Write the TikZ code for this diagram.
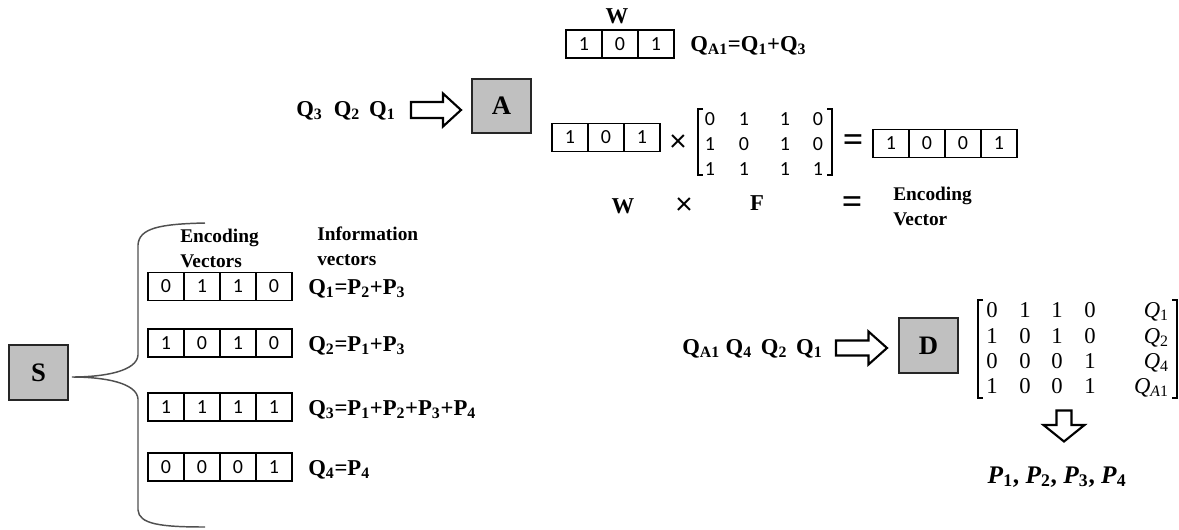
\documentclass[tikz,border=0pt]{standalone}
\usepackage{fontspec}
\setmainfont{Liberation Serif}
\newfontfamily\digitfont{Carlito}
\definecolor{boxgray}{RGB}{192,192,192}
\definecolor{bracegray}{RGB}{80,80,80}
\tikzset{
  cell/.style={draw, line width=0.9pt, minimum width=27pt, minimum height=21pt,
    inner sep=0pt, font=\digitfont\fontsize{15}{15}\selectfont},
  proc/.style={draw=black!85, fill=boxgray, line width=0.9pt, minimum width=44pt,
    minimum height=41pt, inner sep=0pt, font=\bfseries\fontsize{20}{20}\selectfont},
  lbl/.style={inner sep=0pt, anchor=base west, font=\bfseries\fontsize{17}{18}\selectfont},
  head/.style={inner sep=0pt, anchor=base west, align=left,
    font=\bfseries\fontsize{14.5}{18.75}\selectfont},
  big/.style={inner sep=0pt, anchor=base, font=\bfseries\fontsize{17}{17}\selectfont},
  op/.style={inner sep=0pt, font=\digitfont\fontsize{24}{24}\selectfont},
  eq/.style={inner sep=0pt, font=\bfseries\fontsize{27}{27}\selectfont},
  mtop/.style={inner sep=0pt, anchor=base, font=\digitfont\fontsize{15}{15}\selectfont},
  mbot/.style={inner sep=0pt, anchor=base, font=\fontsize{17}{17}\selectfont},
  bracket/.style={line width=0.9pt},
  hollow/.style={draw, line width=1.6pt, fill=white, line join=miter},
  brace/.style={draw=bracegray, line width=1.1pt},
}
% a row of boxed digits, centres 36 units apart
\newcommand\cellrow[4]{%
  \foreach \v [count=\i] in {#4}{\node[cell] (#1\i) at ({#2+36*(\i-1)},#3) {\v};}}

\begin{document}
\begin{tikzpicture}[x=0.75pt,y=-0.75pt]
\useasboundingbox (0,0) rectangle (1179,529);

% ---------- encoder A ----------
\node[big] (Wtop) at (617,23) {W};
\cellrow{wt}{584}{44}{1,0,1}
\node[lbl] (qa1) at (690,51) {Q\textsubscript{A1}=Q\textsubscript{1}+Q\textsubscript{3}};

\node[lbl] (qin) at (296,116) {Q\textsubscript{3}\hspace{0.5em}Q\textsubscript{2}\hspace{0.4em}Q\textsubscript{1}};
\node[proc, minimum width=44.25pt, minimum height=40.5pt] (A) at (501.5,106) {A};
\coordinate (arA) at (436,110);
\draw[hollow, shift={(arA)}] (-25,-8) -- (7,-8) -- (7,-16.5) -- (25,0) -- (7,16.5) -- (7,8) -- (-25,8) -- cycle;

% W x F = encoding vector
\cellrow{wr}{570}{137.5}{1,0,1}
\node[op] (x1) at (678,143) {×};
\draw[bracket] (703,109) -- (698,109) -- (698,175) -- (703,175);
\draw[bracket] (827,109) -- (832,109) -- (832,175) -- (827,175);
\foreach \r/\y/\a/\b/\c/\d in {1/125/0/1/1/0, 2/150/1/0/1/0, 3/175/1/1/1/1}{
  \node[mtop] (f\r1) at (710,\y) {\a};
  \node[mtop] (f\r2) at (744,\y) {\b};
  \node[mtop] (f\r3) at (785,\y) {\c};
  \node[mtop] (f\r4) at (818,\y) {\d};
}
\node[eq] (eq1) at (853,143) {=};
\cellrow{ev}{891}{143.5}{1,0,0,1}

\node[big] (Wlab) at (623,213) {W};
\node[op] (x2) at (684,206) {×};
\node[big] (Flab) at (757,210) {F};
\node[eq] (eq2) at (852,205) {=};
\node[head] (evlab) at (893,225) {Encoding\\Vector};

% ---------- source S ----------
\node[proc, minimum width=44.25pt, minimum height=41.25pt] (S) at (38.5,372.5) {S};
\coordinate (tip) at (72,377);
\path[brace] (205,223) .. controls (160,224) and (139,228) .. (138,245)
  -- (138,355) .. controls (137,371) and (105,377) .. (tip)
  .. controls (105,377) and (137,383) .. (138,399)
  -- (138,510) .. controls (139,524) and (160,527) .. (205,527);

\node[head] (enclab) at (180,267) {Encoding\\Vectors};
\node[head] (inflab) at (317,265) {Information\\vectors};

\cellrow{ra}{166}{286.5}{0,1,1,0}
\cellrow{rb}{166}{343}{1,0,1,0}
\cellrow{rc}{166}{407}{1,1,1,1}
\cellrow{rd}{166}{467}{0,0,0,1}
\node[lbl] (qa) at (308,294) {Q\textsubscript{1}=P\textsubscript{2}+P\textsubscript{3}};
\node[lbl] (qb) at (308,351) {Q\textsubscript{2}=P\textsubscript{1}+P\textsubscript{3}};
\node[lbl] (qc) at (308,415) {Q\textsubscript{3}=P\textsubscript{1}+P\textsubscript{2}+P\textsubscript{3}+P\textsubscript{4}};
\node[lbl] (qd) at (308,475) {Q\textsubscript{4}=P\textsubscript{4}};

% ---------- decoder D ----------
\node[lbl] (qdin) at (682,354) {Q\textsubscript{A1}\hspace{0.25em}Q\textsubscript{4}\hspace{0.4em}Q\textsubscript{2}\hspace{0.4em}Q\textsubscript{1}};
\node[proc, minimum width=44.25pt, minimum height=41.25pt] (D) at (928.5,345.5) {D};
\coordinate (arD) at (861.5,348);
\draw[hollow, shift={(arD)}] (-25.5,-7.5) -- (7,-7.5) -- (7,-16.5) -- (25.5,0) -- (7,16.5) -- (7,7.5) -- (-25.5,7.5) -- cycle;

\draw[bracket] (983,300) -- (978,300) -- (978,398) -- (983,398);
\draw[bracket] (1172,300) -- (1177,300) -- (1177,398) -- (1172,398);
\foreach \r/\y/\a/\b/\c/\d/\q in {1/317/0/1/1/0/1, 2/343/1/0/1/0/2, 3/368/0/0/0/1/4, 4/393/1/0/0/1/{\textit{A}1}}{
  \node[mbot] (g\r1) at (992,\y) {\a};
  \node[mbot] (g\r2) at (1025,\y) {\b};
  \node[mbot] (g\r3) at (1057,\y) {\c};
  \node[mbot] (g\r4) at (1090,\y) {\d};
  \node[mbot, anchor=base east] (gq\r) at (1169,\y) {\textit{Q}\textsubscript{\q}};
}
\coordinate (arP) at (1064,426);
\draw[hollow, shift={(arP)}] (-7.5,-15.5) -- (7.5,-15.5) -- (7.5,-1) -- (20.5,-1) -- (0,15.5) -- (-20.5,-1) -- (-7.5,-1) -- cycle;
\node[inner sep=0pt, anchor=base, font=\bfseries\fontsize{19}{19}\selectfont] (pout) at (1057,483)
  {\textit{P}\textsubscript{1}, \textit{P}\textsubscript{2}, \textit{P}\textsubscript{3}, \textit{P}\textsubscript{4}};
\end{tikzpicture}
\end{document}
